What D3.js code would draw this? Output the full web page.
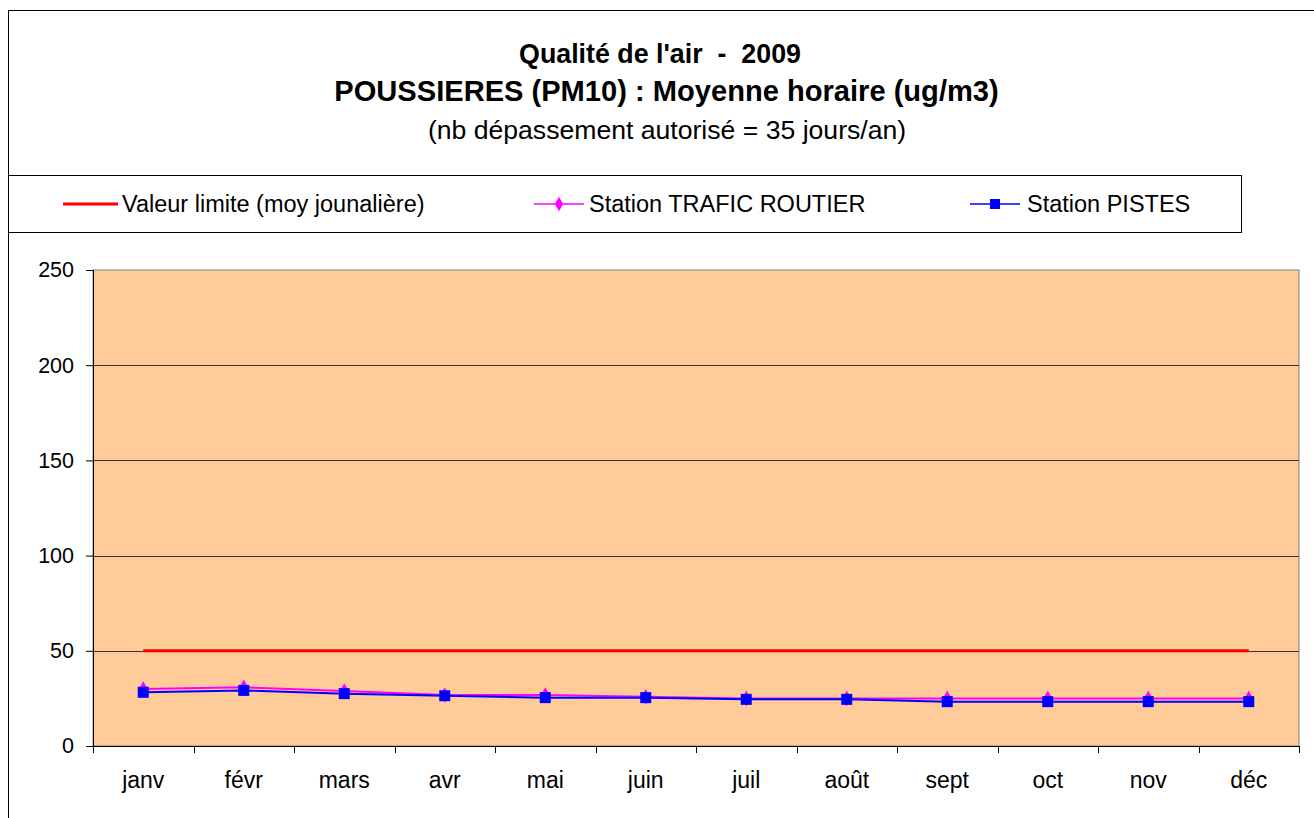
<!DOCTYPE html>
<html><head><meta charset="utf-8">
<script src="https://cdn.jsdelivr.net/npm/d3@7"></script>
<style>body{margin:0;background:#fff;}svg{display:block;font-family:"Liberation Sans",Arial,sans-serif;}text{white-space:pre;}</style>
</head><body>
<svg id="c" width="1314" height="818"></svg>
<script>
const months = ["janv","févr","mars","avr","mai","juin","juil","août","sept","oct","nov","déc"];
const limite = [50,50,50,50,50,50,50,50,50,50,50,50];
const trafic = [29.9,30.8,28.9,26.8,26.8,25.9,25.0,25.0,25.0,25.0,25.0,25.0];
const pistes = [28.2,29.2,27.5,26.4,25.4,25.4,24.5,24.5,23.3,23.3,23.3,23.3];
const yTicks = [0,50,100,150,200,250];
const titles = ["Qualité de l'air  -  2009","POUSSIERES (PM10) : Moyenne horaire (ug/m3)","(nb dépassement autorisé = 35 jours/an)"];
const legendLabels = ["Valeur limite (moy jounalière)","Station TRAFIC ROUTIER","Station PISTES"];

const svg = d3.select("#c");
const W=1314,H=818;
svg.append("rect").attr("x",8.5).attr("y",10.5).attr("width",W).attr("height",H).attr("fill","#fff").attr("stroke","#000").attr("stroke-width",1);

svg.append("text").attr("x",660).attr("y",63).attr("text-anchor","middle").attr("font-weight","bold").attr("font-size",26.8).attr("xml:space","preserve").text(titles[0]);
svg.append("text").attr("x",666.5).attr("y",101).attr("text-anchor","middle").attr("font-weight","bold").attr("font-size",29.1).text(titles[1]);
svg.append("text").attr("x",667).attr("y",139).attr("text-anchor","middle").attr("font-size",26.6).text(titles[2]);

svg.append("rect").attr("x",8.5).attr("y",175.5).attr("width",1233).attr("height",57).attr("fill","#fff").attr("stroke","#000").attr("stroke-width",1);

const L={left:93,right:1299,top:270,bottom:746};
const x=d3.scaleBand().domain(months).range([L.left,L.right]);
const y=d3.scaleLinear().domain([0,250]).range([L.bottom,L.top]);
const g=svg.append("g");
g.append("rect").attr("x",L.left).attr("y",L.top).attr("width",L.right-L.left).attr("height",L.bottom-L.top).attr("fill","#FFCC99").attr("stroke","#808080").attr("stroke-width",1);
g.selectAll(".grid").data(yTicks.filter(d=>d>0&&d<250)).enter().append("line")
 .attr("x1",L.left).attr("x2",L.right).attr("y1",d=>Math.round(y(d))+0.5).attr("y2",d=>Math.round(y(d))+0.5)
 .attr("stroke","#333").attr("stroke-width",1);

const ya=g.append("g").attr("transform",`translate(${L.left},0)`).call(d3.axisLeft(y).tickValues(yTicks).tickSize(7).tickPadding(12));
ya.select(".domain").attr("stroke","#000");
ya.selectAll(".tick line").attr("stroke","#000");
ya.selectAll("text").attr("font-size",21.5).attr("fill","#000").attr("font-family","Liberation Sans, Arial, sans-serif");

const xa=g.append("g").attr("transform",`translate(0,${L.bottom})`).call(d3.axisBottom(x).tickSize(0).tickPadding(26));
xa.select(".domain").attr("stroke","#000");
xa.selectAll("text").attr("font-size",23).attr("fill","#000").attr("font-family","Liberation Sans, Arial, sans-serif");
const bounds=months.map(m=>x(m)).concat([L.right]);
g.selectAll(".bt").data(bounds).enter().append("line").attr("x1",d=>Math.round(d)+0.5).attr("x2",d=>Math.round(d)+0.5)
 .attr("y1",L.bottom).attr("y2",L.bottom+7).attr("stroke","#000");

const cx=m=>x(m)+x.bandwidth()/2;
const line=d3.line().x((d,i)=>cx(months[i])).y(d=>y(d));
g.append("path").datum(limite).attr("d",line).attr("fill","none").attr("stroke","#FF0000").attr("stroke-width",3);
g.append("path").datum(trafic).attr("d",line).attr("fill","none").attr("stroke","#FF00FF").attr("stroke-width",2);
g.append("path").datum(pistes).attr("d",line).attr("fill","none").attr("stroke","#0000FF").attr("stroke-width",2);
g.selectAll(".tm").data(trafic).enter().append("path").attr("d",d3.symbol().type(d3.symbolDiamond).size(70))
 .attr("transform",(d,i)=>`translate(${cx(months[i])},${y(d)})`).attr("fill","#FF00FF");
g.selectAll(".pm").data(pistes).enter().append("rect").attr("x",(d,i)=>cx(months[i])-5.5).attr("y",d=>y(d)-5.5)
 .attr("width",11).attr("height",11).attr("fill","#0000FF");

const ly=204;
const lg=svg.append("g");
lg.append("line").attr("x1",63).attr("x2",118).attr("y1",ly).attr("y2",ly).attr("stroke","#FF0000").attr("stroke-width",3);
lg.append("text").attr("x",122).attr("y",ly+8).attr("font-size",23.5).text(legendLabels[0]);
lg.append("line").attr("x1",534).attr("x2",584).attr("y1",ly).attr("y2",ly).attr("stroke","#FF00FF").attr("stroke-width",1.5);
lg.append("path").attr("d",d3.symbol().type(d3.symbolDiamond).size(60)).attr("transform",`translate(559,${ly})`).attr("fill","#FF00FF");
lg.append("text").attr("x",589).attr("y",ly+8).attr("font-size",23.5).text(legendLabels[1]);
lg.append("line").attr("x1",970).attr("x2",1020).attr("y1",ly).attr("y2",ly).attr("stroke","#0000FF").attr("stroke-width",1.5);
lg.append("rect").attr("x",990).attr("y",ly-5).attr("width",10).attr("height",10).attr("fill","#0000FF");
lg.append("text").attr("x",1027).attr("y",ly+8).attr("font-size",23.5).text(legendLabels[2]);
</script>
</body></html>
